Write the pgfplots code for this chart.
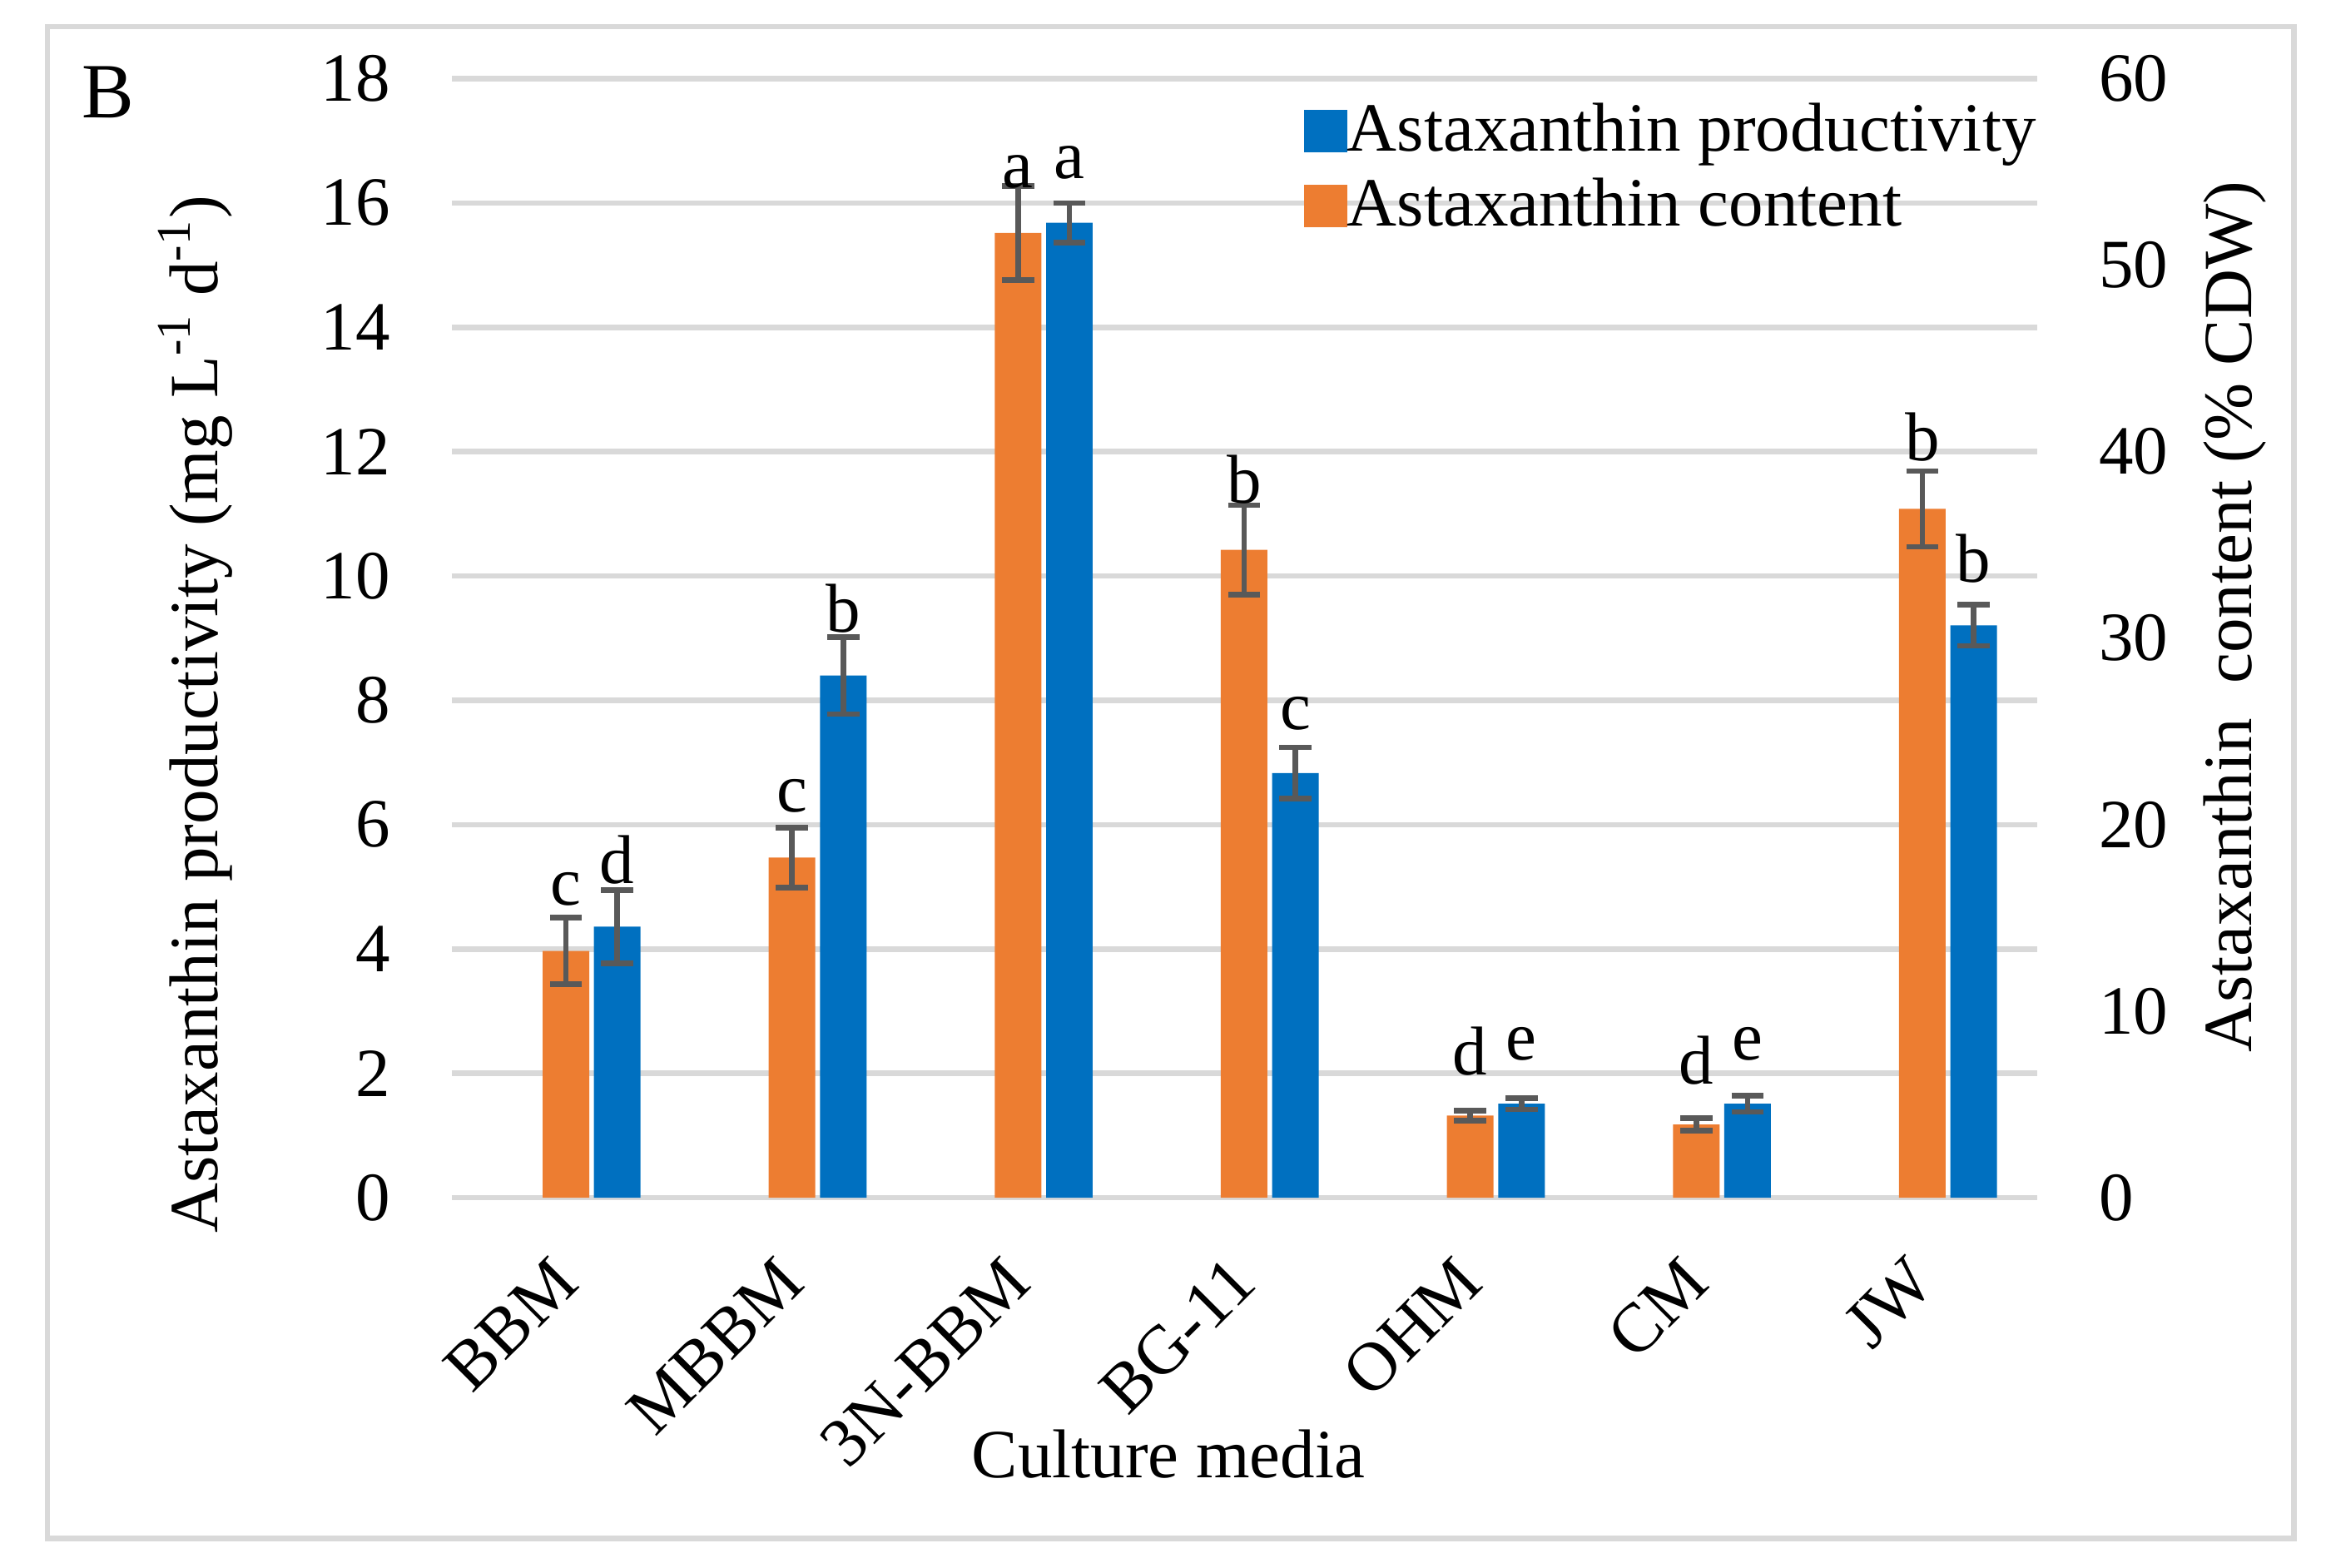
\documentclass[border=0pt]{standalone}
\usepackage{fontspec}
\setmainfont{Liberation Serif}
\usepackage{pgfplots}
\usepackage{pgfplotstable}
\pgfplotsset{compat=1.18}

\definecolor{cont}{HTML}{ED7D31}
\definecolor{prodc}{HTML}{0070C0}
\definecolor{errc}{HTML}{595959}
\definecolor{gridc}{HTML}{D9D9D9}

\newcommand{\fs}{\fontsize{13.25}{15.9}\selectfont}

% productivity (mg L-1 d-1), left axis; ly = letter baseline
\pgfplotstableread{
x  y      e     ly     lab
0  4.36   0.59  5.05   d
1  8.40   0.62  9.10   b
2  15.68  0.32  16.39  a
3  6.83   0.41  7.53   c
4  1.51   0.09  2.22   e
5  1.51   0.13  2.22   e
6  9.205  0.33  9.90   b
}\prodtab

% content (% CDW), right axis
\pgfplotstableread{
x  y      e     ly     lab
0  13.23  1.78  15.67  c
1  18.23  1.60  20.70  c
2  51.73  2.52  54.17  a
3  34.73  2.40  37.23  b
4  4.40   0.27  6.60   d
5  3.92   0.33  6.07   d
6  36.93  2.03  39.50  b
}\conttab

\pgfplotsset{
  base/.style={
    at={(30.46mm,24.96mm)}, anchor=south west,
    width=106.86mm, height=75.43mm, scale only axis,
    xmin=-0.618, xmax=6.394,
    axis line style={draw=none}, tick style={draw=none},
    font=\fs, tick label style={font=\fs},
    /pgf/number format/assume math mode=true,
    every axis y label/.style={rotate=90, anchor=center, font=\fs},
    every axis x label/.style={anchor=center, font=\fs},
  },
  sqlegend/.style={
    legend image code/.code={\fill[##1] (0mm,-1.45mm) rectangle (2.9mm,1.45mm);},
  },
  errs/.style={
    error bars/.cd, y dir=both, y explicit,
    error bar style={errc, line width=1.05pt},
    error mark options={rotate=90, mark size=1.08mm, line width=1.05pt, errc},
  },
  letters/.style={
    ybar, bar width=3.14mm, bar shift=0pt, draw=none, fill=none, forget plot,
    nodes near coords, point meta=explicit symbolic,
    every node near coord/.append style={anchor=base, inner sep=0pt, font=\fs, black},
  },
}

\begin{document}
\begin{tikzpicture}[font=\fs]

\begin{axis}[base,
  ymin=0, ymax=18, ytick={0,2,...,18},
  ymajorgrids, grid style={gridc, line width=1.05pt},
  yticklabel style={anchor=east, inner sep=0pt, xshift=-4.1mm},
  xtick={0,...,6},
  xticklabels={BBM,MBBM,3N-BBM,BG-11,OHM,CM,JW},
  xticklabel style={xshift=-1.73mm, yshift=-4.83mm, rotate=45, anchor=east, inner sep=0pt},
  xlabel={Culture media},
  xlabel style={at={(axis description cs:0.452,-0.229)}},
  ylabel={Astaxanthin productivity (mg L\textsuperscript{-1} d\textsuperscript{-1})},
  ylabel style={at={(axis description cs:-0.1619,0.432)}},
]
% blue bars sit 1.73 mm (0.1135 category units) right of the category centre
\addplot[ybar, bar width=3.14mm, bar shift=0pt, fill=prodc, draw=none, errs]
  table[x expr=\thisrow{x}+0.1135, y=y, y error=e] {\prodtab};
\addplot[letters]
  table[x expr=\thisrow{x}+0.1135, y=ly, meta=lab] {\prodtab};
\end{axis}

\begin{axis}[base,
  ymin=0, ymax=60, ytick={0,10,...,60},
  yticklabel pos=right,
  yticklabel style={anchor=west, inner sep=0pt, xshift=4.1mm},
  xtick=\empty,
  ylabel={Astaxanthin\ \ content (\% CDW)},
  ylabel style={at={(axis description cs:1.125,0.519)}},
  legend style={at={(axis description cs:1,0.979)}, anchor=north east,
    draw=none, fill=none, inner sep=0pt, row sep=1.3mm, font=\fs,
    nodes={inner sep=0pt},
    /tikz/every even column/.append style={column sep=0.6mm}},
  legend cell align=left,
]
\addlegendimage{fill=prodc, draw=none, sqlegend}
\addlegendentry{Astaxanthin productivity}
\addplot[ybar, bar width=3.14mm, bar shift=0pt, fill=cont, draw=none, sqlegend, errs]
  table[x expr=\thisrow{x}-0.1135, y=y, y error=e] {\conttab};
\addlegendentry{Astaxanthin content}
\addplot[letters]
  table[x expr=\thisrow{x}-0.1135, y=ly, meta=lab] {\conttab};
\end{axis}

\node[anchor=base west, inner sep=0pt, font=\fontsize{15}{18}\selectfont] at (5.45mm,97.74mm) {B};
\draw[gridc, line width=1.05pt] (3.2mm,1.99mm) rectangle (154.65mm,103.89mm);

\pgfresetboundingbox
\useasboundingbox (0,0) rectangle (156.8mm,105.69mm);
\end{tikzpicture}
\end{document}
